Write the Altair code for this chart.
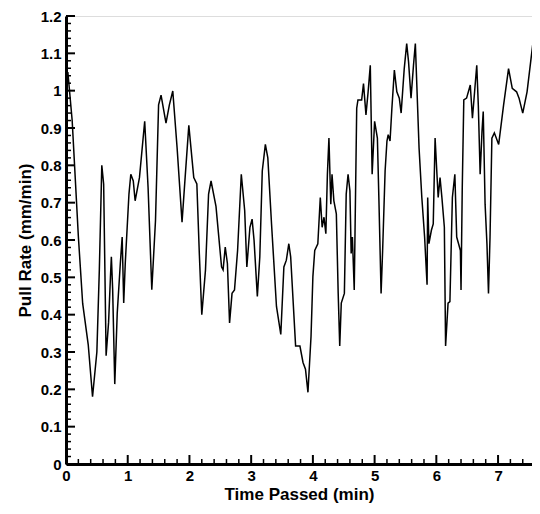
import altair as alt
import pandas as pd

# Time (min) and pull rate (mm/min)
time_min = [0.00, 0.03, 0.10, 0.20, 0.27, 0.36, 0.43, 0.50, 0.54, 0.58, 0.61, 0.65, 0.69, 0.72, 0.735,
            0.756, 0.79, 0.83, 0.88, 0.91, 0.935, 0.96, 1.02, 1.05, 1.09, 1.12, 1.19, 1.275, 1.33, 1.39,
            1.45, 1.50, 1.54, 1.62, 1.675, 1.73, 1.80, 1.88, 1.93, 1.99, 2.07, 2.12, 2.16, 2.20, 2.26,
            2.31, 2.35, 2.43, 2.52, 2.545, 2.58, 2.615, 2.65, 2.69, 2.73, 2.78, 2.84, 2.895, 2.93, 2.98,
            3.015, 3.047, 3.10, 3.14, 3.18, 3.23, 3.27, 3.33, 3.41, 3.48, 3.53, 3.57, 3.61, 3.64, 3.72,
            3.79, 3.84, 3.88, 3.92, 3.97, 4.00, 4.03, 4.08, 4.12, 4.15, 4.18, 4.21, 4.235, 4.26, 4.29,
            4.31, 4.34, 4.38, 4.41, 4.435, 4.46, 4.51, 4.54, 4.57, 4.60, 4.62, 4.64, 4.67, 4.71, 4.73,
            4.79, 4.82, 4.86, 4.895, 4.93, 4.96, 5.00, 5.045, 5.07, 5.105, 5.13, 5.17, 5.20, 5.22, 5.25,
            5.28, 5.32, 5.36, 5.40, 5.43, 5.48, 5.52, 5.55, 5.59, 5.63, 5.66, 5.68, 5.72, 5.765, 5.81,
            5.85, 5.86, 5.88, 5.92, 5.95, 5.98, 6.01, 6.03, 6.06, 6.09, 6.13, 6.15, 6.19, 6.22, 6.26,
            6.30, 6.33, 6.36, 6.39, 6.40, 6.42, 6.445, 6.49, 6.55, 6.585, 6.62, 6.655, 6.68, 6.71, 6.74,
            6.76, 6.79, 6.82, 6.845, 6.87, 6.90, 6.94, 7.01, 7.09, 7.17, 7.23, 7.30, 7.34, 7.40, 7.47,
            7.56, 7.63, 7.68]
pull_rate = [1.03, 1.05, 0.92, 0.61, 0.43, 0.32, 0.18, 0.30, 0.52, 0.80, 0.75, 0.29, 0.38, 0.50, 0.555,
             0.467, 0.214, 0.404, 0.537, 0.608, 0.431, 0.537, 0.723, 0.776, 0.758, 0.705, 0.767, 0.918, 0.74, 0.467,
             0.652, 0.962, 0.988, 0.913, 0.962, 0.999, 0.847, 0.648, 0.767, 0.907, 0.767, 0.75, 0.564, 0.40, 0.52,
             0.723, 0.758, 0.69, 0.528, 0.52, 0.581, 0.537, 0.378, 0.457, 0.466, 0.572, 0.776, 0.679, 0.528, 0.634,
             0.656, 0.599, 0.449, 0.555, 0.785, 0.856, 0.82, 0.643, 0.422, 0.347, 0.528, 0.546, 0.59, 0.555, 0.316,
             0.316, 0.272, 0.254, 0.192, 0.342, 0.502, 0.572, 0.59, 0.714, 0.634, 0.661, 0.617, 0.776, 0.873, 0.696,
             0.776, 0.705, 0.67, 0.457, 0.316, 0.431, 0.457, 0.723, 0.776, 0.732, 0.564, 0.608, 0.466, 0.953, 0.975,
             0.975, 1.019, 0.935, 0.997, 1.068, 0.776, 0.918, 0.873, 0.706, 0.457, 0.572, 0.785, 0.865, 0.882, 0.865,
             0.953, 1.055, 0.997, 0.98, 0.94, 1.059, 1.126, 1.077, 0.98, 1.068, 1.126, 1.033, 0.847, 0.714, 0.608,
             0.48, 0.714, 0.59, 0.626, 0.643, 0.873, 0.776, 0.714, 0.767, 0.714, 0.634, 0.316, 0.431, 0.435, 0.714,
             0.776, 0.608, 0.59, 0.572, 0.466, 0.74, 0.975, 0.98, 1.015, 0.926, 0.997, 1.068, 0.962, 0.776, 0.891,
             0.944, 0.696, 0.59, 0.457, 0.608, 0.873, 0.887, 0.856, 0.962, 1.059, 1.006, 0.997, 0.98, 0.94, 0.997,
             1.121, 1.112, 1.10]

x_major = [0, 1, 2, 3, 4, 5, 6, 7]
x_minor = [i / 5 for i in range(0, 38) if i % 5 != 0]
y_major = [i / 10 for i in range(0, 13)]
y_minor = [i / 50 for i in range(0, 61) if i % 5 != 0]

FONT = "Liberation Sans"
H = 448
W = 466
X_MAX = 7.55

xscale = alt.Scale(domain=[0, X_MAX], nice=False, zero=False)
yscale = alt.Scale(domain=[0, 1.2], nice=False)

xaxis = alt.Axis(values=x_major, format="d", title="Time Passed (min)", ticks=False, grid=False,
                 domainColor="black", domainWidth=3, labelFont=FONT, labelFontSize=15,
                 labelFontWeight="bold", labelColor="black", labelPadding=4, labelFlush=False,
                 titleFont=FONT, titleFontSize=17, titleFontWeight="bold", titleColor="black",
                 titlePadding=3)
yaxis = alt.Axis(values=y_major, format=".1~f", title="Pull Rate (mm/min)", ticks=False, grid=False,
                 domainColor="black", domainWidth=3, labelFont=FONT, labelFontSize=15,
                 labelFontWeight="bold", labelColor="black", labelPadding=5, labelFlush=False,
                 titleFont=FONT, titleFontSize=17, titleFontWeight="bold", titleColor="black",
                 titlePadding=6)

df = pd.DataFrame({"t": time_min, "v": pull_rate})

line = alt.Chart(df).mark_line(color="black", strokeWidth=1.5, clip=True).encode(
    x=alt.X("t:Q", scale=xscale, axis=xaxis),
    y=alt.Y("v:Q", scale=yscale, axis=yaxis),
)

xmaj = alt.Chart(pd.DataFrame({"t": x_major})).mark_rule(color="black", strokeWidth=2).encode(
    x=alt.X("t:Q", scale=xscale, axis=xaxis), y=alt.value(H), y2=alt.value(H - 9))
xmin = alt.Chart(pd.DataFrame({"t": x_minor})).mark_rule(color="black", strokeWidth=1.5).encode(
    x=alt.X("t:Q", scale=xscale, axis=xaxis), y=alt.value(H), y2=alt.value(H - 5))
ymaj = alt.Chart(pd.DataFrame({"v": y_major})).mark_rule(color="black", strokeWidth=2).encode(
    y=alt.Y("v:Q", scale=yscale, axis=yaxis), x=alt.value(0), x2=alt.value(9))
ymin = alt.Chart(pd.DataFrame({"v": y_minor})).mark_rule(color="black", strokeWidth=1.5).encode(
    y=alt.Y("v:Q", scale=yscale, axis=yaxis), x=alt.value(0), x2=alt.value(5))

chart = alt.layer(line, xmaj, xmin, ymaj, ymin).properties(
    width=W, height=H,
    padding={"left": 58, "top": 8, "right": 0, "bottom": 42},
    autosize=alt.AutoSizeParams(type="none"),
).configure_view(stroke=None).configure(background="white")

chart.save("out.html", embed_options={"renderer": "svg", "actions": False})
